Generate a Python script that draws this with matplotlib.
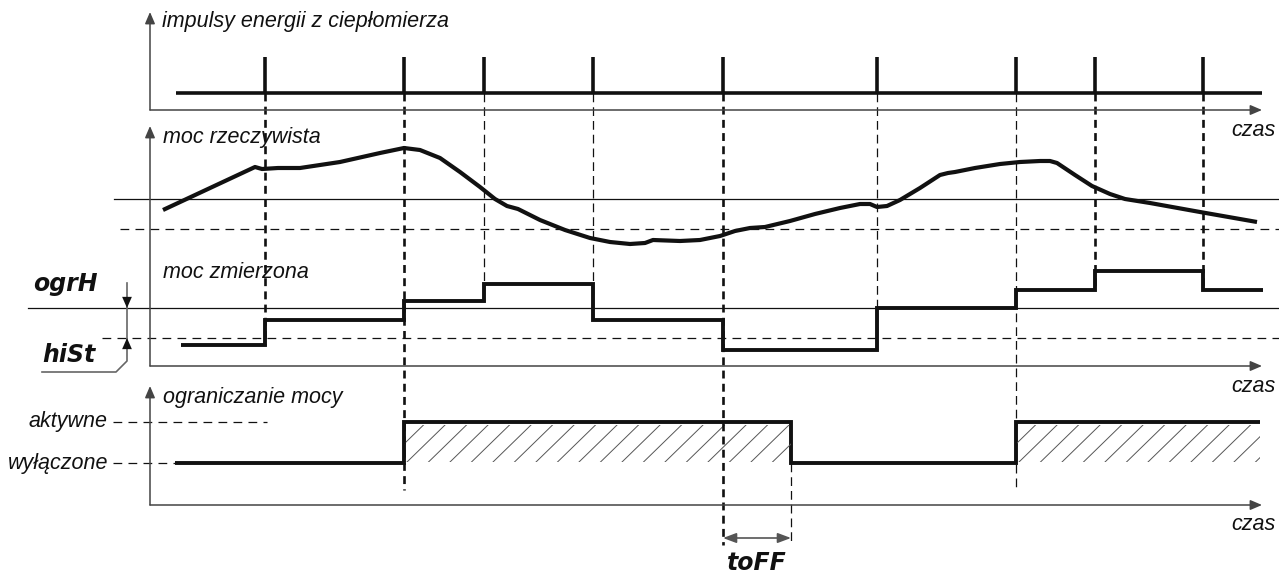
import matplotlib
matplotlib.use("Agg")
import matplotlib.pyplot as plt
from matplotlib.patches import Rectangle
import numpy as np

plt.rcParams["font.family"] = ["Liberation Sans", "DejaVu Sans"]

# ---- data (time in diagram units, power in units where ogrH = 100) ----
impulse_t = [115, 254, 334, 443, 573, 727, 866, 945, 1053]
bold_impulses = [0, 1, 4, 7, 8]          # drawn with the heavier dash

ogr_h = 100
hist = 30

real_t = [13, 105, 112, 128, 150, 190, 230, 254, 270, 290, 310, 330, 345, 357,
          368, 372, 390, 415, 440, 460, 480, 495, 503, 530, 550, 570, 585, 600,
          615, 640, 665, 690, 710, 720, 727, 737, 750, 770, 790, 798, 805, 825,
          850, 870, 890, 900, 907, 925, 942, 960, 975, 1000, 1050, 1107]
real_p = [89, 132, 130, 131, 131, 137, 146, 151, 149, 141, 127, 112, 100, 93,
          90, 88, 79, 69, 61, 57, 55, 56, 59, 58, 59, 63, 68, 71,
          72, 78, 85, 91, 95, 95, 92, 93, 99, 111, 124, 126, 127, 131,
          135, 137, 138, 138, 136, 124, 113, 105, 100, 96, 87, 77]

meas_edges = [31, 115, 254, 334, 443, 573, 727, 866, 945, 1053, 1113]
meas_p = [63, 88, 107, 124, 88, 58, 100, 118, 137, 118]

limit_edges = [25, 254, 641, 866, 1110]
limit_state = [0, 1, 0, 1]
toff = 68

state_labels = ["wyłączone", "aktywne"]

# ---- layout (pixels) ----
W, H = 1279, 577
X0 = 150
X_END = 1262
AX_C = "#444444"
LN_C = "#111111"


def px(t):
    return X0 + np.asarray(t, dtype=float)


def y_imp(v):
    return 93 - 36 * np.asarray(v, dtype=float)


def y_real(p):
    return 299 - np.asarray(p, dtype=float)


def y_meas(p):
    return 408 - np.asarray(p, dtype=float)


def y_lim(s):
    return 463 - 41 * np.asarray(s, dtype=float)


fig = plt.figure(figsize=(W / 100, H / 100), dpi=100)
ax = fig.add_axes([0, 0, 1, 1])
ax.set_xlim(0, W)
ax.set_ylim(H, 0)
ax.axis("off")


def arrow(x1, y1, x2, y2, color=AX_C, lw=1.1, style="-|>,head_length=0.7,head_width=0.3"):
    ax.annotate("", xy=(x2, y2), xytext=(x1, y1),
                arrowprops=dict(arrowstyle=style, color=color, lw=lw,
                                shrinkA=0, shrinkB=0))


lab = dict(fontsize=15.5, style="italic", color="#111111")

# axes
for y_bot, y_top in [(110, 12), (366, 126), (505, 386)]:
    arrow(X0, y_bot, X0, y_top)
    arrow(X0, y_bot, X_END, y_bot)
for y_bot in (110, 366, 505):
    ax.text(1276, y_bot + 20, "czas", ha="right", va="center", **lab)

ax.text(162, 22, "impulsy energii z ciepłomierza", ha="left", va="center", **lab)
ax.text(163, 137, "moc rzeczywista", ha="left", va="center", **lab)
ax.text(163, 272, "moc zmierzona", ha="left", va="center", **lab)
ax.text(163, 397, "ograniczanie mocy", ha="left", va="center", **lab)

# ---- panel 1: impulses ----
ax.plot([px(0) + 26, X_END], [y_imp(0)] * 2, color=LN_C, lw=2.6, solid_capstyle="butt")
ax.vlines(px(impulse_t), y_imp(0), y_imp(1), color=LN_C, lw=2.6)

# ---- panel 2: real power ----
ax.plot([114, W], [y_real(ogr_h)] * 2, color=LN_C, lw=0.9)
ax.plot([120, W], [y_real(ogr_h - hist)] * 2, color=LN_C, lw=0.9, ls=(0, (7, 5)))
ax.plot(px(real_t), y_real(real_p), color=LN_C, lw=3.0,
        solid_joinstyle="round", solid_capstyle="butt")

# ---- panel 3: measured power ----
ax.plot([28, W], [y_meas(ogr_h)] * 2, color=LN_C, lw=0.9)
ax.plot([102, W], [y_meas(ogr_h - hist)] * 2, color=LN_C, lw=0.9, ls=(0, (7, 5)))
ax.stairs(y_meas(meas_p), px(meas_edges), baseline=None, color=LN_C, lw=2.8)

# ogrH / hiSt markers
seg = dict(fontsize=17, fontweight="bold", style="oblique", color="#111111",
           family="DejaVu Sans")
ax.text(33, 284, "ogrH", ha="left", va="center", **seg)
ax.text(42, 355, "hiSt", ha="left", va="center", **seg)
ax.plot([127, 127, 116, 42], [283, 361, 372, 372], color="#666666", lw=1.2)
arrow(127, 290, 127, y_meas(ogr_h), color=LN_C, lw=0.01,
      style="-|>,head_length=0.8,head_width=0.35")
arrow(127, 355, 127, y_meas(ogr_h - hist), color=LN_C, lw=0.01,
      style="-|>,head_length=0.8,head_width=0.35")

# ---- panel 4: limiting state ----
for s, name in enumerate(state_labels):
    ax.text(108, y_lim(s), name, ha="right", va="center", **lab)
ax.plot([113, 267], [y_lim(1)] * 2, color=LN_C, lw=0.9, ls=(0, (7, 5)))
ax.plot([113, 175], [y_lim(0)] * 2, color=LN_C, lw=0.9, ls=(0, (7, 5)))

for i, s in enumerate(limit_state):
    if s:
        x1, x2 = px(limit_edges[i]), px(limit_edges[i + 1])
        rect = Rectangle((x1, y_lim(1) + 3), x2 - x1, y_lim(0) - y_lim(1) - 4,
                         fill=False, lw=0)
        ax.add_patch(rect)
        for xs in np.arange(x1 - 40, x2 + 40, 21.5):
            ln, = ax.plot([xs, xs + 38], [y_lim(0) - 1, y_lim(1) + 3],
                          color="#555555", lw=0.7)
            ln.set_clip_path(rect)
ax.stairs(y_lim(limit_state), px(limit_edges), baseline=None, color=LN_C, lw=2.8)

# ---- vertical dashed guides ----
for i, t in enumerate(impulse_t):
    j = meas_edges.index(t)
    y_end = y_meas(min(meas_p[j - 1], meas_p[j]))
    if t in limit_edges:
        y_end = 490
    if t == limit_edges[2] - toff:
        y_end = 545
    if i in bold_impulses:
        ax.plot([px(t)] * 2, [y_imp(0), y_end], color=LN_C, lw=1.9, ls=(0, (3, 2)))
    else:
        ax.plot([px(t)] * 2, [y_imp(0), y_end], color=LN_C, lw=0.9, ls=(0, (7, 4)))
ax.plot([px(limit_edges[2])] * 2, [y_lim(0), 545], color=LN_C, lw=0.9, ls=(0, (7, 4)))

# toff arrow
t_on = limit_edges[2] - toff
ax.annotate("", xy=(px(t_on), 538), xytext=(px(limit_edges[2]), 538),
            arrowprops=dict(arrowstyle="<|-|>,head_length=0.8,head_width=0.3",
                            color="#555555", lw=1.2, shrinkA=0, shrinkB=0))
ax.text(px(t_on + toff / 2), 563, "toFF", ha="center", va="center", **seg)

fig.savefig("out.png", dpi=100)
